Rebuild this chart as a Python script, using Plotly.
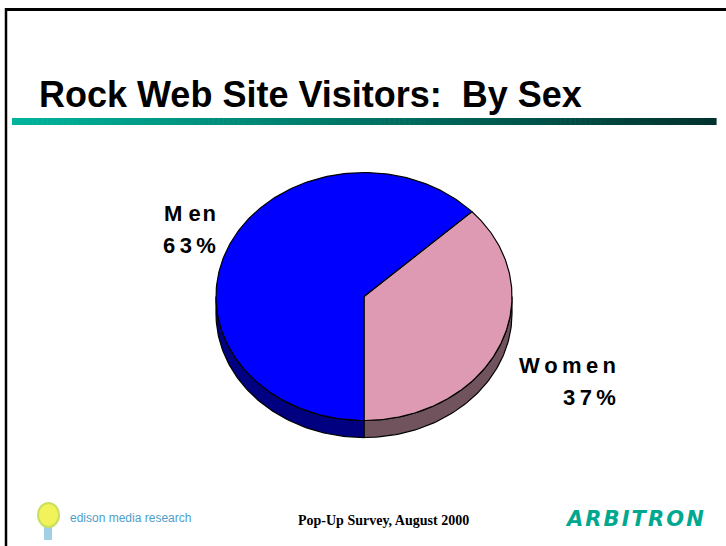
import math
import plotly.graph_objects as go

# ---- data ----
labels = ["Women", "Men"]          # drawn counter-clockwise from 6 o'clock
values = [37, 63]
label_text = {"Men": "M en\u200a", "Women": "W\u2009o\u2009m\u2009e\u2009n"}
label_text["Men"] = "M e\u200an"
pct_text = {"Men": "6\u20093\u2009%", "Women": "3\u20097\u2009%"}
top_colors = {"Men": "#0000FF", "Women": "#DD9AB2"}
side_colors = {"Men": "#000080", "Women": "#70535C"}

title = "Rock Web Site Visitors:  By Sex"
footer = "Pop-Up Survey, August 2000"
logo_left = "edison media research"
logo_right = "ARBITRON"

W, H = 726, 546
cx, cy, rx, ry, depth = 364, 296.5, 148, 124, 17
start_deg = -90.0

fig = go.Figure()

def pt(deg, dy=0.0):
    t = math.radians(deg)
    return cx + rx * math.cos(t), cy - ry * math.sin(t) + dy

total = float(sum(values))
spans = []
a = start_deg
for lab, v in zip(labels, values):
    b = a + 360.0 * v / total
    spans.append((lab, a, b))
    a = b

# side walls (visible lower half: angles 180..360 mod 360)
for lab, a0, b0 in spans:
    for k in (-1, 0, 1):
        lo = max(a0, 180 + 360 * k)
        hi = min(b0, 360 + 360 * k)
        if hi <= lo:
            continue
        n = 80
        angs = [lo + (hi - lo) * i / n for i in range(n + 1)]
        xs = [pt(g)[0] for g in angs] + [pt(g, depth)[0] for g in reversed(angs)]
        ys = [pt(g)[1] for g in angs] + [pt(g, depth)[1] for g in reversed(angs)]
        xs.append(xs[0]); ys.append(ys[0])
        fig.add_trace(go.Scatter(x=xs, y=ys, mode="lines", fill="toself",
                                 fillcolor=side_colors[lab],
                                 line=dict(color="black", width=1.2),
                                 hoverinfo="skip", showlegend=False))

# top faces
for lab, a0, b0 in spans:
    n = 200
    angs = [a0 + (b0 - a0) * i / n for i in range(n + 1)]
    xs = [cx] + [pt(g)[0] for g in angs] + [cx]
    ys = [cy] + [pt(g)[1] for g in angs] + [cy]
    fig.add_trace(go.Scatter(x=xs, y=ys, mode="lines", fill="toself",
                             fillcolor=top_colors[lab],
                             line=dict(color="black", width=1.2),
                             hoverinfo="skip", showlegend=False, name=lab))

lab_font = dict(family="Liberation Sans, Arial", size=22, color="black")
# Men label
fig.add_annotation(x=218, y=213, text="<b>" + label_text["Men"] + "</b>", showarrow=False,
                   xanchor="right", yanchor="middle", font=lab_font)
fig.add_annotation(x=218, y=245, text="<b>" + pct_text["Men"] + "</b>", showarrow=False,
                   xanchor="right", yanchor="middle", font=lab_font)
# Women label
fig.add_annotation(x=618, y=365, text="<b>" + label_text["Women"] + "</b>", showarrow=False,
                   xanchor="right", yanchor="middle", font=lab_font)
fig.add_annotation(x=618, y=397, text="<b>" + pct_text["Women"] + "</b>", showarrow=False,
                   xanchor="right", yanchor="middle", font=lab_font)

# title
fig.add_annotation(x=37, y=94, text="<b>" + title + "</b>", showarrow=False,
                   xanchor="left", yanchor="middle",
                   font=dict(family="Liberation Sans, Arial", size=36, color="black"))

# gradient rule under title
x0, x1, nseg = 12, 716, 140
c0, c1 = (0, 180, 156), (0, 50, 46)
shapes = []
for i in range(nseg):
    f = i / (nseg - 1)
    col = "rgb(%d,%d,%d)" % tuple(round(c0[j] + (c1[j] - c0[j]) * f) for j in range(3))
    xa = x0 + (x1 - x0) * i / nseg
    xb = x0 + (x1 - x0) * (i + 1) / nseg + 0.6
    shapes.append(dict(type="rect", xref="x", yref="y", x0=xa, x1=xb, y0=118, y1=125,
                       fillcolor=col, line=dict(width=0), layer="below"))

# slide border
shapes.append(dict(type="line", xref="x", yref="y", x0=5, x1=W, y0=9.5, y1=9.5,
                   line=dict(color="black", width=3)))
shapes.append(dict(type="line", xref="x", yref="y", x0=6, x1=6, y0=8, y1=H,
                   line=dict(color="black", width=2.5)))

# edison logo (bulb)
shapes.append(dict(type="rect", xref="x", yref="y", x0=44, x1=52, y0=524, y1=540,
                   fillcolor="#9FD0E6", line=dict(width=0)))
shapes.append(dict(type="circle", xref="x", yref="y", x0=38, x1=59, y0=503, y1=527,
                   fillcolor="#F2F25A", line=dict(color="#C8E060", width=2)))

fig.add_annotation(x=68, y=518, text=logo_left, showarrow=False,
                   xanchor="left", yanchor="middle",
                   font=dict(family="Liberation Sans", size=12, color="#4E9ECB"))

# footer
fig.add_annotation(x=383, y=520, text="<b>" + footer + "</b>", showarrow=False,
                   xanchor="center", yanchor="middle",
                   font=dict(family="Liberation Serif, Times New Roman", size=14, color="black"))
fig.add_annotation(x=706, y=519, text="<b><i>" + "\u200a".join(logo_right) + "</i></b>",
                   showarrow=False, xanchor="right", yanchor="middle",
                   font=dict(family="DejaVu Sans", size=21, color="#00A890"))

fig.update_layout(
    width=W, height=H, margin=dict(l=0, r=0, t=0, b=0),
    paper_bgcolor="white", plot_bgcolor="white", showlegend=False,
    xaxis=dict(range=[0, W], visible=False, fixedrange=True),
    yaxis=dict(range=[H, 0], visible=False, fixedrange=True),
    shapes=shapes,
)

fig.write_html("out.html")
